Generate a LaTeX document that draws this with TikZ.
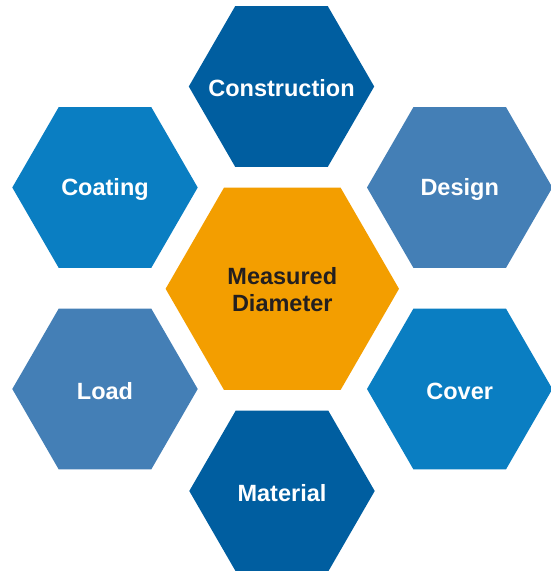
\documentclass[tikz,border=0pt]{standalone}
\usepackage{fontspec}
\setmainfont{Liberation Sans}
\usetikzlibrary{shapes.geometric}

\definecolor{hexdark}{RGB}{0,94,160}
\definecolor{hexmid}{RGB}{10,126,194}
\definecolor{hexsteel}{RGB}{68,127,182}
\definecolor{hexcore}{RGB}{243,158,0}
\definecolor{coretext}{RGB}{35,31,32}

\tikzset{
  hexbase/.style={regular polygon, regular polygon sides=6, draw=none,
    inner sep=0pt, outer sep=0pt},
  hexsmall/.style 2 args={hexbase, minimum size=185.4pt, fill=#1,
    label={[text=white, inner sep=0pt, align=center,
      font=\fontsize{23.5}{27.3}\selectfont\bfseries, yshift=-2pt]center:#2}},
  hexbig/.style={hexbase, minimum size=233.4pt, fill=hexcore,
    label={[text=coretext, inner sep=0pt, align=center,
      font=\fontsize{23.5}{27.3}\selectfont\bfseries, yshift=-1pt]center:#1}},
}

\begin{document}
\begin{tikzpicture}[x=1pt,y=-1pt]
  \useasboundingbox (0,0) rectangle (551,571);
  \fill[white] (0,0) rectangle (551,571);

  % surrounding factors
  \node[hexsmall={hexdark}{Construction}]  (construction) at (281.5,86.5)  {};
  \node[hexsmall={hexmid}{Coating}]        (coating)      at (105,187.5)   {};
  \node[hexsmall={hexsteel}{Design}]       (design)       at (459.7,187.5) {};
  \node[hexsmall={hexsteel}{Load}]         (load)         at (105,389)     {};
  \node[hexsmall={hexmid}{Cover}]          (cover)        at (459.7,389)   {};
  \node[hexsmall={hexdark}{Material}]      (material)     at (282,491)     {};

  % central quantity
  \node[hexbig={Measured\\Diameter}] (measured) at (282.3,288.8) {};
\end{tikzpicture}
\end{document}
